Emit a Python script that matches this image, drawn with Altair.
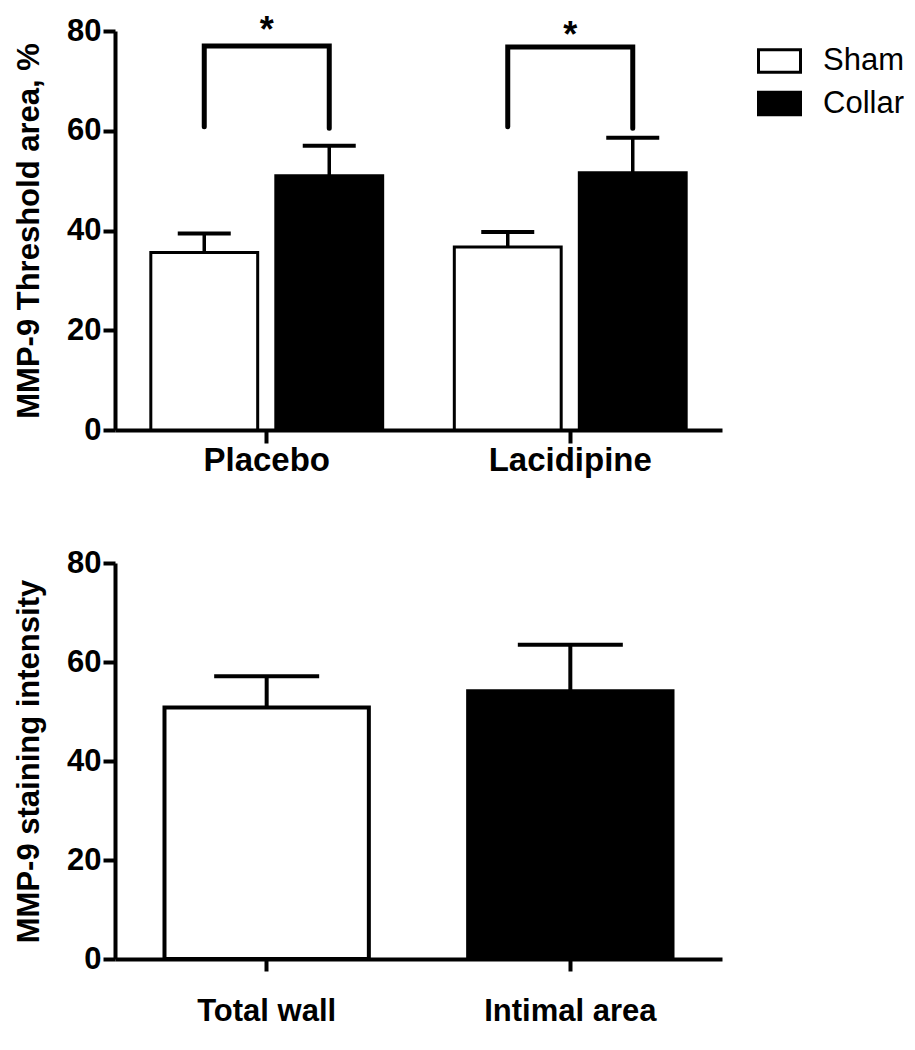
import altair as alt
import pandas as pd

# ---------------- data ----------------
groups = ["Placebo", "Placebo", "Lacidipine", "Lacidipine"]
treatments = ["Sham", "Collar", "Sham", "Collar"]
top_means = [35.6, 51.0, 36.7, 51.6]
top_upper = [39.4, 57.0, 39.7, 58.6]

bracket_groups = ["Placebo"] * 4 + ["Lacidipine"] * 4
bracket_treat = ["Sham", "Sham", "Collar", "Collar"] * 2
bracket_y = [60.8, 77.0, 77.0, 60.5, 60.8, 76.8, 76.8, 60.5]
bracket_order = [0, 1, 2, 3] * 2

star_groups = ["Placebo", "Lacidipine"]
star_y = [80.1, 78.9]
star_text = ["*", "*"]

sites = ["Total wall", "Intimal area"]
site_means = [50.8, 54.1]
site_upper = [57.1, 63.5]

FONT = "Liberation Sans"
GROUP_ORDER = ["Placebo", "Lacidipine"]
TREAT_ORDER = ["Sham", "Collar"]

top_df = pd.DataFrame({"group": groups, "treatment": treatments,
                       "mean": top_means, "upper": top_upper})
br_df = pd.DataFrame({"group": bracket_groups, "treatment": bracket_treat,
                      "mean": bracket_y, "order": bracket_order})
star_df = pd.DataFrame({"group": star_groups, "mean": star_y, "txt": star_text})
site_df = pd.DataFrame({"site": sites, "mean": site_means, "upper": site_upper})

axis_common = dict(
    domainColor="black", domainWidth=4, tickColor="black", tickWidth=4,
    labelColor="black", labelFont=FONT, labelFontWeight="bold",
    titleColor="black", titleFont=FONT, titleFontWeight="bold", grid=False,
)

# ---------------- top panel ----------------
x_top = alt.X("group:N", sort=GROUP_ORDER,
              scale=alt.Scale(paddingInner=0.236, paddingOuter=0.118),
              axis=alt.Axis(title=None, labelAngle=0, labelFontSize=33,
                            tickSize=13, labelPadding=1, **axis_common))
xo_top = alt.XOffset("treatment:N", sort=TREAT_ORDER,
                     scale=alt.Scale(paddingInner=0.145, paddingOuter=0))
y_top_axis = alt.Axis(values=[0, 20, 40, 60, 80], title="MMP-9 Threshold area, %",
                      titleFontSize=31, labelFontSize=31, tickSize=12,
                      labelPadding=2, titlePadding=21, **axis_common)
y_top = alt.Y("mean:Q", scale=alt.Scale(domain=[0, 80], nice=False), axis=y_top_axis)

bars_top = alt.Chart(top_df).mark_bar(stroke="black", strokeWidth=3).encode(
    x=x_top, xOffset=xo_top, y=y_top,
    fill=alt.Fill("treatment:N", sort=TREAT_ORDER,
                  scale=alt.Scale(domain=TREAT_ORDER, range=["white", "black"]),
                  legend=alt.Legend(
                      title=None, orient="none", legendX=642, legendY=7.5,
                      symbolType="M-1,-0.53L1,-0.53L1,0.53L-1,0.53Z",
                      symbolSize=1764, symbolStrokeColor="black",
                      symbolStrokeWidth=3, labelFont=FONT, labelFontSize=31,
                      labelColor="black", labelOffset=21, rowPadding=2.5,
                      padding=0)),
)
err_top = alt.Chart(top_df).mark_rule(color="black", strokeWidth=3.5).encode(
    x=x_top, xOffset=xo_top, y=y_top, y2="upper:Q")
cap_top = alt.Chart(top_df).mark_tick(color="black", thickness=4, size=53,
                                      opacity=1).encode(
    x=x_top, xOffset=xo_top,
    y=alt.Y("upper:Q", scale=alt.Scale(domain=[0, 80], nice=False), axis=y_top_axis))
bracket = alt.Chart(br_df).mark_line(color="black", strokeWidth=5, strokeCap="round",
                                     strokeJoin="miter").encode(
    x=x_top, xOffset=xo_top, y=y_top, detail="group:N", order="order:Q")
stars = alt.Chart(star_df).mark_text(fontSize=36, font=FONT, fontWeight="bold",
                                     color="black", baseline="middle").encode(
    x=x_top, y=y_top, text="txt:N")

top = alt.layer(bars_top, err_top, cap_top, bracket, stars).properties(
    width=607, height=399)

# ---------------- bottom panel ----------------
x_bot = alt.X("site:N", sort=sites,
              scale=alt.Scale(paddingInner=0.327, paddingOuter=0.163),
              axis=alt.Axis(title=None, labelAngle=0, labelFontSize=31,
                            tickSize=12, labelPadding=25, **axis_common))
y_bot_axis = alt.Axis(values=[0, 20, 40, 60, 80], title="MMP-9 staining intensity",
                      titleFontSize=31, labelFontSize=31, tickSize=12,
                      labelPadding=2, titlePadding=21, **axis_common)
y_bot = alt.Y("mean:Q", scale=alt.Scale(domain=[0, 80], nice=False), axis=y_bot_axis)

bars_bot = alt.Chart(site_df).mark_bar(stroke="black", strokeWidth=4).encode(
    x=x_bot, y=y_bot,
    fill=alt.Fill("site:N", sort=sites,
                  scale=alt.Scale(domain=sites, range=["white", "black"]),
                  legend=None),
)
err_bot = alt.Chart(site_df).mark_rule(color="black", strokeWidth=4).encode(
    x=x_bot, y=y_bot, y2="upper:Q")
cap_bot = alt.Chart(site_df).mark_tick(color="black", thickness=4, size=105,
                                       opacity=1).encode(
    x=x_bot,
    y=alt.Y("upper:Q", scale=alt.Scale(domain=[0, 80], nice=False), axis=y_bot_axis))

bottom = alt.layer(bars_bot, err_bot, cap_bot).properties(width=607, height=396)

chart = alt.vconcat(top, bottom, spacing=70).resolve_scale(
    fill="independent").resolve_legend(fill="independent").properties(
    padding={"left": 5, "top": 4, "right": 0, "bottom": 0},
    background="white",
).configure_view(strokeWidth=0, stroke=None)

chart.save("out.html", embed_options={"renderer": "svg", "actions": False})
